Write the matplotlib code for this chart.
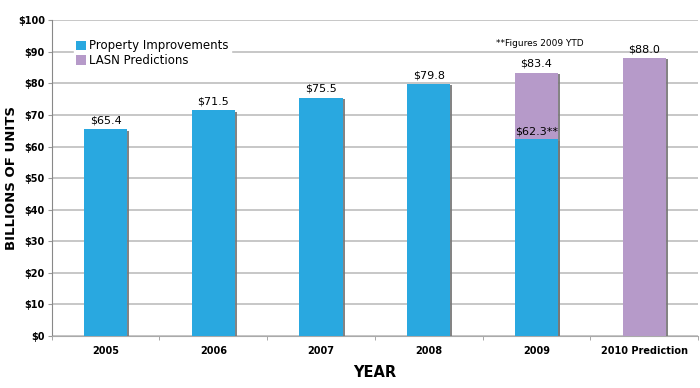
import numpy as np
import matplotlib.pyplot as plt
import matplotlib.patheffects as pe

categories = ['2005', '2006', '2007', '2008', '2009', '2010 Prediction']
actual = [65.4, 71.5, 75.5, 79.8, 62.3, 0]
predicted = [0, 0, 0, 0, 83.4, 88.0]
top_labels = ['$65.4', '$71.5', '$75.5', '$79.8', '$83.4', '$88.0']
ytd_label = '$62.3**'

BLUE = '#29a8e0'
PURPLE = '#b69ac9'
shadow = [pe.SimplePatchShadow(offset=(1.5, -1), shadow_rgbFace='#777777', alpha=0.9), pe.Normal()]

fig = plt.figure(figsize=(7, 3.88), dpi=100)
ax = fig.add_axes([0.074, 0.134, 0.923, 0.814])

x = np.arange(len(categories))
w = 0.4
tops = [max(a, p) for a, p in zip(actual, predicted)]

pb = ax.bar(x, predicted, w, color=PURPLE, label='LASN Predictions', zorder=3)
ab = ax.bar(x, actual, w, color=BLUE, label='Property Improvements', zorder=4)
for b in list(pb) + list(ab):
    b.set_path_effects(shadow)

for xi, top, lab in zip(x, tops, top_labels):
    ax.text(xi, top + 1.2, lab, ha='center', va='bottom', fontsize=8)
ax.text(x[4], actual[4] + 0.8, ytd_label, ha='center', va='bottom', fontsize=8, zorder=5)
ax.text(x[4] + 0.03, 92.5, '**Figures 2009 YTD', ha='center', va='center', fontsize=6.5)

ax.set_xlim(-0.5, len(categories) - 0.5)
ax.set_ylim(0, 100)
ax.set_yticks(np.arange(0, 101, 10))
ax.set_yticklabels(['$%d' % v for v in range(0, 101, 10)], fontsize=7, fontweight='bold')
ax.set_xticks(x)
ax.set_xticklabels(categories, fontsize=7, fontweight='bold')
ax.set_xticks(np.arange(-0.5, len(categories)), minor=True)
ax.tick_params(axis='x', which='major', length=0, pad=7)
ax.tick_params(axis='x', which='minor', length=3, color='#999999')
ax.tick_params(axis='y', length=3, color='#999999', pad=2)

ax.grid(axis='y', color='#bdbdbd', linewidth=1.2, zorder=0)
ax.set_axisbelow(True)
for s in ['top', 'right']:
    ax.spines[s].set_visible(False)
ax.spines['left'].set_color('#888888')
ax.spines['bottom'].set_color('#aaaaaa')

ax.set_ylabel('BILLIONS OF UNITS', fontsize=9.5, fontweight='bold')
ax.yaxis.set_label_coords(-0.053, 0.5)
ax.set_xlabel('YEAR', fontsize=10.5, fontweight='bold')
ax.xaxis.set_label_coords(0.5, -0.092)

leg = ax.legend(handles=[ab, pb], loc='upper left', bbox_to_anchor=(0.025, 0.965),
                fontsize=8.5, frameon=True, handlelength=0.8, handleheight=0.9,
                handletextpad=0.3, labelspacing=0.15, borderpad=0.2,
                fancybox=False)
leg.get_frame().set_edgecolor('white')
leg.get_frame().set_alpha(1)
for h in leg.legend_handles:
    h.set_path_effects([])

fig.savefig('out.png', dpi=100)
